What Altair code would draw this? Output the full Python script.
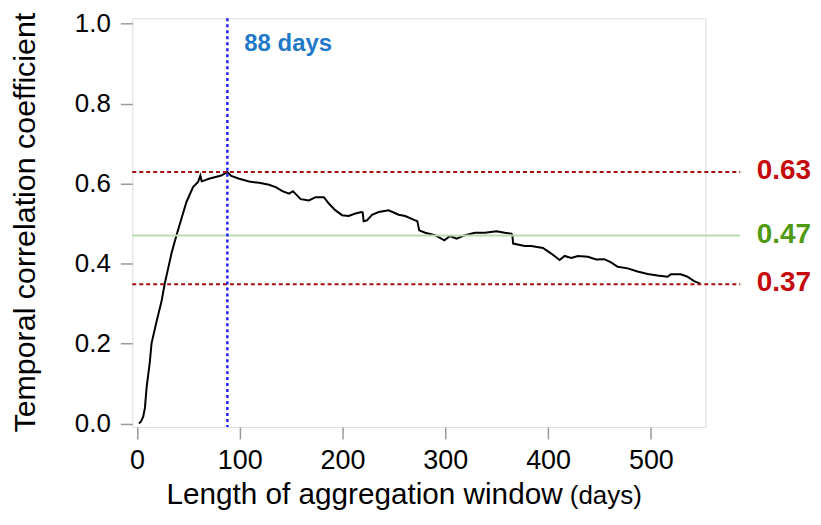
import altair as alt
import pandas as pd

# ---- data ----
days = [2, 4, 6.2, 7.8, 9.4, 12.6, 14.2, 19.1, 23.9, 27.1, 30.4, 33.6, 38.5, 43.3, 48.2,
        54.6, 59.5, 61.7, 63, 65.9, 70, 75.6, 82, 87, 88, 91.8, 99.5, 109.2, 118.9, 128.6,
        135, 141.5, 148, 151.8, 159.3, 167.3, 173.8, 181.9, 186.7, 193.2, 199.6, 206,
        212.6, 218.4, 219.6, 220.6, 223.8, 228.7, 235.2, 244.9, 254.6, 261, 270.7, 272.8,
        274.6, 280.4, 290.1, 299.1, 304.6, 311, 319.2, 328.9, 338.6, 349.8, 357.9, 364.3,
        365.2, 366, 377.3, 383.7, 395, 403.1, 411.2, 416.1, 422.5, 429, 438.7, 446.8,
        454.8, 461.2, 467.7, 477.4, 487.1, 496.8, 506.5, 516.2, 519.4, 529.1, 535.6, 542, 548]
corr = [0.000, 0.005, 0.018, 0.039, 0.089, 0.155, 0.200, 0.255, 0.305, 0.350, 0.388, 0.425,
        0.471, 0.512, 0.554, 0.591, 0.604, 0.620, 0.606, 0.608, 0.612, 0.616, 0.620, 0.627,
        0.629, 0.619, 0.612, 0.605, 0.602, 0.597, 0.591, 0.581, 0.575, 0.581, 0.561, 0.558,
        0.566, 0.566, 0.550, 0.533, 0.521, 0.519, 0.525, 0.529, 0.528, 0.506, 0.508, 0.522,
        0.529, 0.533, 0.522, 0.519, 0.508, 0.506, 0.483, 0.477, 0.471, 0.458, 0.469, 0.462,
        0.471, 0.477, 0.477, 0.481, 0.477, 0.475, 0.472, 0.450, 0.444, 0.444, 0.439, 0.425,
        0.409, 0.419, 0.414, 0.419, 0.417, 0.410, 0.411, 0.403, 0.392, 0.388, 0.380, 0.374,
        0.370, 0.367, 0.373, 0.373, 0.367, 0.356, 0.350]

peak_day = [88]
peak_label = ["88 days"]
ref_values = [0.629, 0.47, 0.348]
ref_labels = ["0.63", "0.47", "0.37"]
ref_colors = ["#a50f0f", "#b9dbb2", "#a50f0f"]
ref_label_colors = ["#c40a0a", "#4f9a12", "#c40a0a"]
ref_dash = [[4, 3], [1, 0], [4, 3]]
y_ticks = [0.0, 0.2, 0.4, 0.6, 0.8, 1.0]
x_ticks = [0, 100, 200, 300, 400, 500]

FONT = "Liberation Sans"
W, H = 575, 410

df = pd.DataFrame({"day": days, "corr": corr})
ref_df = pd.DataFrame({"v": ref_values, "label": ref_labels})
peak_df = pd.DataFrame({"day": peak_day, "label": peak_label})

xscale = alt.Scale(domain=[-4.5, 553], nice=False, zero=False)
yscale = alt.Scale(domain=[-0.0085, 1.0132], nice=False, zero=False)

x_axis = alt.Axis(values=x_ticks, title=None, domain=False, grid=False,
                  tickSize=12, tickWidth=1.5, tickColor="#9a9a9a",
                  labelFont=FONT, labelFontSize=27, labelColor="black",
                  labelPadding=9, labelFlush=False)
y_axis = alt.Axis(values=y_ticks, format=".1f", title=None, domain=False,
                  grid=False, tickSize=12, tickWidth=1.5, tickColor="#9a9a9a",
                  labelFont=FONT, labelFontSize=26, labelColor="black",
                  labelPadding=10, labelFlush=False)

line = alt.Chart(df).mark_line(color="black", strokeWidth=2).encode(
    x=alt.X("day:Q", scale=xscale, axis=x_axis),
    y=alt.Y("corr:Q", scale=yscale, axis=y_axis),
)

rules = []
for i in range(len(ref_values)):
    sub = ref_df.iloc[[i]]
    rules.append(alt.Chart(sub).mark_rule(
        color=ref_colors[i], strokeWidth=2, strokeDash=ref_dash[i]).encode(
        y=alt.Y("v:Q", scale=yscale, axis=y_axis),
        x=alt.value(0), x2=alt.value(610)))
    rules.append(alt.Chart(sub).mark_text(
        font=FONT, fontSize=28, fontWeight="bold", color=ref_label_colors[i],
        align="left", baseline="middle", dy=-1).encode(
        y=alt.Y("v:Q", scale=yscale, axis=y_axis),
        x=alt.value(626.5), text="label:N"))

vline = alt.Chart(peak_df).mark_rule(color="#1f1fff", strokeWidth=2.5,
                                     strokeDash=[3, 3]).encode(
    x=alt.X("day:Q", scale=xscale, axis=x_axis),
    y=alt.value(0), y2=alt.value(H))

vtext = alt.Chart(peak_df).mark_text(font=FONT, fontSize=24, fontWeight="bold",
                                     color="#1f78c8", align="left",
                                     baseline="alphabetic", dx=17).encode(
    x=alt.X("day:Q", scale=xscale, axis=x_axis),
    y=alt.value(33), text="label:N")

title_df = pd.DataFrame({"t": ["Temporal correlation coefficient"]})
ytitle = alt.Chart(title_df).mark_text(font=FONT, fontSize=30.5, angle=270,
                                       align="center", baseline="alphabetic",
                                       color="black").encode(
    x=alt.value(-97.5), y=alt.value(H / 2), text="t:N")

xt_df = pd.DataFrame({"t": ["Length of aggregation window"], "u": ["(days)"]})
xtitle = alt.Chart(xt_df).mark_text(font=FONT, fontSize=29.8, align="left",
                                    baseline="alphabetic", color="black").encode(
    x=alt.value(34.3), y=alt.value(487), text="t:N")
xunit = alt.Chart(xt_df).mark_text(font=FONT, fontSize=26, align="left",
                                   baseline="alphabetic", color="black").encode(
    x=alt.value(439), y=alt.value(487), text="u:N")

chart = alt.layer(line, *rules, vline, vtext, ytitle, xtitle, xunit).properties(
    width=W, height=H,
    autosize=alt.AutoSizeParams(type="none"),
    padding={"left": 124.7, "top": 9.5, "right": 108, "bottom": 86},
).configure_view(stroke="#a8a8a8", strokeWidth=1.5).configure(background="white")

chart.save("out.html", embed_options={"renderer": "svg", "actions": False})
